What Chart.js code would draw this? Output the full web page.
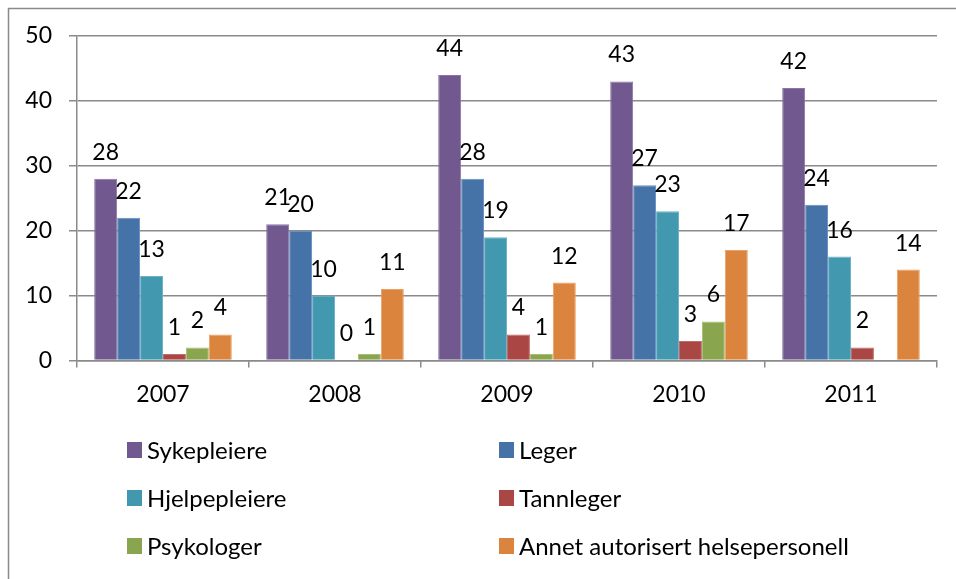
<!DOCTYPE html>
<html>
<head>
<meta charset="utf-8">
<script src="https://cdn.jsdelivr.net/npm/chart.js@4/dist/chart.umd.min.js"></script>
<style>
  html, body { margin: 0; padding: 0; background: #fff; }
  #wrap { width: 956px; height: 579px; position: relative; }
</style>
</head>
<body>
<div id="wrap"><canvas id="c" width="956" height="579"></canvas></div>
<script>
const categories = ['2007', '2008', '2009', '2010', '2011'];
const seriesNames = ['Sykepleiere', 'Leger', 'Hjelpepleiere', 'Tannleger', 'Psykologer', 'Annet autorisert helsepersonell'];
const sykepleiere = [28, 21, 44, 43, 42];
const leger = [22, 20, 28, 27, 24];
const hjelpepleiere = [13, 10, 19, 23, 16];
const tannleger = [1, 0, 4, 3, 2];
const psykologer = [2, 1, 1, 6, null];
const annet = [4, 11, 12, 17, 14];
const yMin = 0, yMax = 50, yStep = 10;

const colors = ['#71588F', '#4572A7', '#4198AF', '#AA4643', '#89A54E', '#DB843D'];
const borders = ['#8a76a6', '#6a8fc0', '#6cb3c6', '#c26a68', '#a4be72', '#eba066'];
const seriesData = [sykepleiere, leger, hjelpepleiere, tannleger, psykologer, annet];

const FONT = "Lato, 'Open Sans', sans-serif";
const GRID = '#8a8a8a';

const frame = {
  id: 'frame',
  beforeDraw(chart) {
    const ctx = chart.ctx;
    ctx.save();
    ctx.strokeStyle = GRID;
    ctx.lineWidth = 1.5;
    ctx.beginPath();
    ctx.moveTo(8.5, 600);
    ctx.lineTo(8.5, 8.5);
    ctx.lineTo(970, 8.5);
    ctx.stroke();
    ctx.restore();
  }
};

const valueLabels = {
  id: 'valueLabels',
  afterDatasetsDraw(chart) {
    const ctx = chart.ctx;
    ctx.save();
    ctx.font = '23px ' + FONT;
    ctx.fillStyle = '#000';
    ctx.textAlign = 'center';
    ctx.textBaseline = 'alphabetic';
    chart.data.datasets.forEach((ds, i) => {
      const meta = chart.getDatasetMeta(i);
      meta.data.forEach((el, j) => {
        const v = ds.data[j];
        if (v === null || v === undefined) return;
        ctx.fillText(String(v), el.x, el.y - 19);
      });
    });
    ctx.restore();
  }
};

const gridLegend = {
  id: 'gridLegend',
  afterDraw(chart) {
    const ctx = chart.ctx;
    const left = 127;
    const colW = 372;
    const top0 = 442;
    const rowH = 48;
    ctx.save();
    ctx.font = '24px ' + FONT;
    ctx.textBaseline = 'middle';
    ctx.textAlign = 'left';
    chart.data.datasets.forEach((ds, i) => {
      const col = i % 2, row = Math.floor(i / 2);
      const x = left + col * colW;
      const y = top0 + row * rowH;
      ctx.fillStyle = ds.backgroundColor;
      ctx.fillRect(x, y, 15, 16);
      ctx.fillStyle = '#000';
      ctx.fillText(ds.label, x + 20, y + 9);
    });
    ctx.restore();
  }
};

new Chart(document.getElementById('c'), {
  type: 'bar',
  data: {
    labels: categories,
    datasets: seriesNames.map((name, i) => ({
      label: name,
      data: seriesData[i],
      backgroundColor: colors[i],
      borderColor: borders[i],
      borderWidth: 1,
      categoryPercentage: 0.8,
      barPercentage: 1.0
    }))
  },
  options: {
    responsive: false,
    animation: false,
    devicePixelRatio: 1,
    layout: { padding: { left: 8, right: 19, top: 36, bottom: 158 } },
    plugins: {
      legend: { display: false },
      tooltip: { enabled: false },
      title: { display: false }
    },
    scales: {
      x: {
        grid: {
          offset: true,
          drawOnChartArea: false,
          drawTicks: true,
          tickLength: 7,
          color: GRID,
          lineWidth: 1.5
        },
        border: { display: true, color: GRID, width: 1.5 },
        ticks: { color: '#000', font: { family: FONT, size: 23 }, padding: 13 }
      },
      y: {
        min: yMin,
        max: yMax,
        afterFit(scale) { scale.width = 69; },
        grid: {
          color: GRID,
          lineWidth: 1.5,
          drawTicks: true,
          tickLength: 8
        },
        border: { display: true, color: GRID, width: 1.5 },
        ticks: { stepSize: yStep, color: '#000', font: { family: FONT, size: 23 }, padding: 17 }
      }
    }
  },
  plugins: [frame, valueLabels, gridLegend]
});
</script>
</body>
</html>
